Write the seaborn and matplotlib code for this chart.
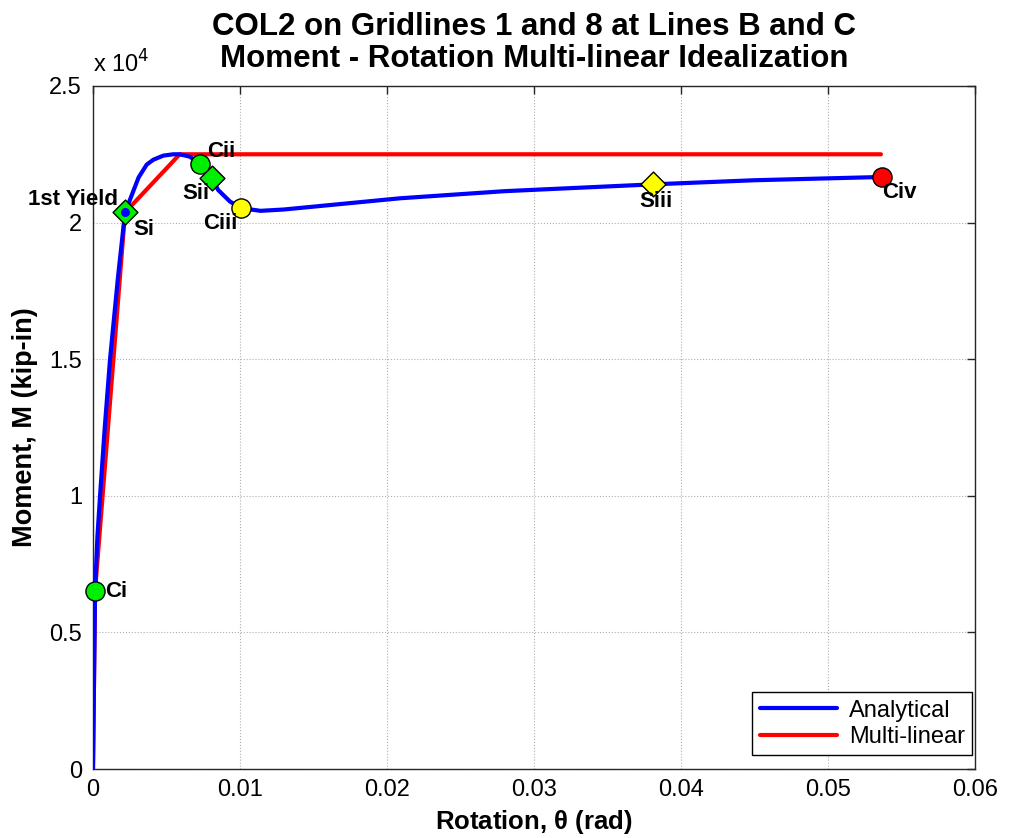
import matplotlib
matplotlib.use('Agg')
import matplotlib.pyplot as plt
import seaborn as sns
import pandas as pd
from matplotlib.ticker import FuncFormatter

# analytical moment-rotation curve (rad, kip-in)
rot_analytical = [0.0, 0.00014, 0.0003, 0.00048, 0.0008, 0.00116, 0.0017, 0.00218,
                  0.0031, 0.00365, 0.0041, 0.00478, 0.00546, 0.0059, 0.0066, 0.00728,
                  0.00807, 0.00852, 0.00932, 0.01007, 0.0114, 0.013, 0.0209, 0.028,
                  0.0381, 0.045, 0.0537]
mom_analytical = [0, 6510, 8500, 10000, 12500, 15000, 18000, 20370,
                  21650, 22120, 22300, 22450, 22500, 22500, 22410, 22130,
                  21620, 21190, 20770, 20530, 20430, 20480, 20890, 21150,
                  21400, 21550, 21670]

# multi-linear idealization
rot_multi = [0.0, 0.00014, 0.00218, 0.0059, 0.0536]
mom_multi = [0, 6510, 20370, 22500, 22500]

# performance points
pt_names = ['Ci', 'Si', 'Cii', 'Sii', 'Ciii', 'Siii', 'Civ']
pt_rot = [0.00014, 0.00218, 0.00728, 0.00807, 0.01007, 0.0381, 0.0537]
pt_mom = [6510, 20370, 22130, 21620, 20530, 21400, 21670]
pt_marker = ['o', 'D', 'o', 'D', 'o', 'D', 'o']
pt_color = ['#00ee00', '#00ee00', '#00ee00', '#00ee00', '#ffff00', '#ffff00', '#ff0000']
# label offsets in points
pt_offset = [(7, 0), (6, -12), (5, 9), (-21, -11), (-27, -11), (-10, -12), (0, -11)]

sns.set_style('white')
plt.rcParams['font.family'] = ['Liberation Sans', 'DejaVu Sans']
plt.rcParams['text.color'] = 'black'
plt.rcParams['axes.labelcolor'] = 'black'

fig = plt.figure(figsize=(10.13, 8.38), dpi=100)
ax = fig.add_axes([0.0918, 0.0823, 0.8707, 0.8151])

df_a = pd.DataFrame({'rot': rot_analytical, 'mom': mom_analytical})
df_m = pd.DataFrame({'rot': rot_multi, 'mom': mom_multi})
sns.lineplot(data=df_a, x='rot', y='mom', sort=False, estimator=None, color='#0000ff',
             linewidth=3, label='Analytical', ax=ax, zorder=3)
sns.lineplot(data=df_m, x='rot', y='mom', sort=False, estimator=None, color='#ff0000',
             linewidth=3, label='Multi-linear', ax=ax, zorder=2)

for name, r, m, mk, c, off in zip(pt_names, pt_rot, pt_mom, pt_marker, pt_color, pt_offset):
    ax.scatter([r], [m], marker=mk, s=190 if mk == 'o' else 160, color=c,
               edgecolor='black', linewidth=1, zorder=5, clip_on=False)
    ax.annotate(name, (r, m), xytext=off, textcoords='offset points', ha='left',
                va='center', fontsize=16, fontweight='bold', zorder=6)

# first yield point
ax.scatter([pt_rot[1]], [pt_mom[1]], marker='o', s=30, color='#0000ff', zorder=6)
ax.annotate('1st Yield', (pt_rot[1], pt_mom[1]), xytext=(-5, 9), textcoords='offset points',
            ha='right', va='center', fontsize=16, fontweight='bold', zorder=6)

ax.set_xlim(0, 0.06)
ax.set_ylim(0, 25000)
ax.set_xticks([0, 0.01, 0.02, 0.03, 0.04, 0.05, 0.06])
ax.set_xticklabels(['0', '0.01', '0.02', '0.03', '0.04', '0.05', '0.06'])
ax.set_yticks([0, 5000, 10000, 15000, 20000, 25000])
ax.yaxis.set_major_formatter(FuncFormatter(lambda v, p: f'{v / 1e4:g}'))
ax.tick_params(direction='in', length=6, labelsize=17, colors='#262626', labelcolor='black',
               width=1, top=True, right=True, pad=7)
ax.tick_params(axis='y', pad=8)
ax.grid(True, linestyle=':', color='#b0b0b0', linewidth=0.8)
for s in ax.spines.values():
    s.set_color('#262626')
    s.set_linewidth(1)

ax.text(0.0, 1.012, r'x 10$^4$', transform=ax.transAxes, fontsize=17, ha='left', va='bottom')

ax.set_xlabel(r'Rotation, $\mathregular{\theta}$ (rad)', fontsize=18.5, fontweight='bold', labelpad=5)
ax.set_ylabel('Moment, M (kip-in)', fontsize=19.5, fontweight='bold', labelpad=8)
ax.set_title('COL2 on Gridlines 1 and 8 at Lines B and C\nMoment - Rotation Multi-linear Idealization',
             fontsize=22.5, fontweight='bold', pad=14, linespacing=1.05)

leg = ax.legend(loc='lower right', bbox_to_anchor=(0.997, 0.02), fontsize=17, fancybox=False,
                framealpha=1, edgecolor='black', handlelength=3.3, borderpad=0.3,
                labelspacing=0.2, handletextpad=0.5, borderaxespad=0)
leg.get_frame().set_linewidth(1)

fig.savefig('out.png', dpi=100)
